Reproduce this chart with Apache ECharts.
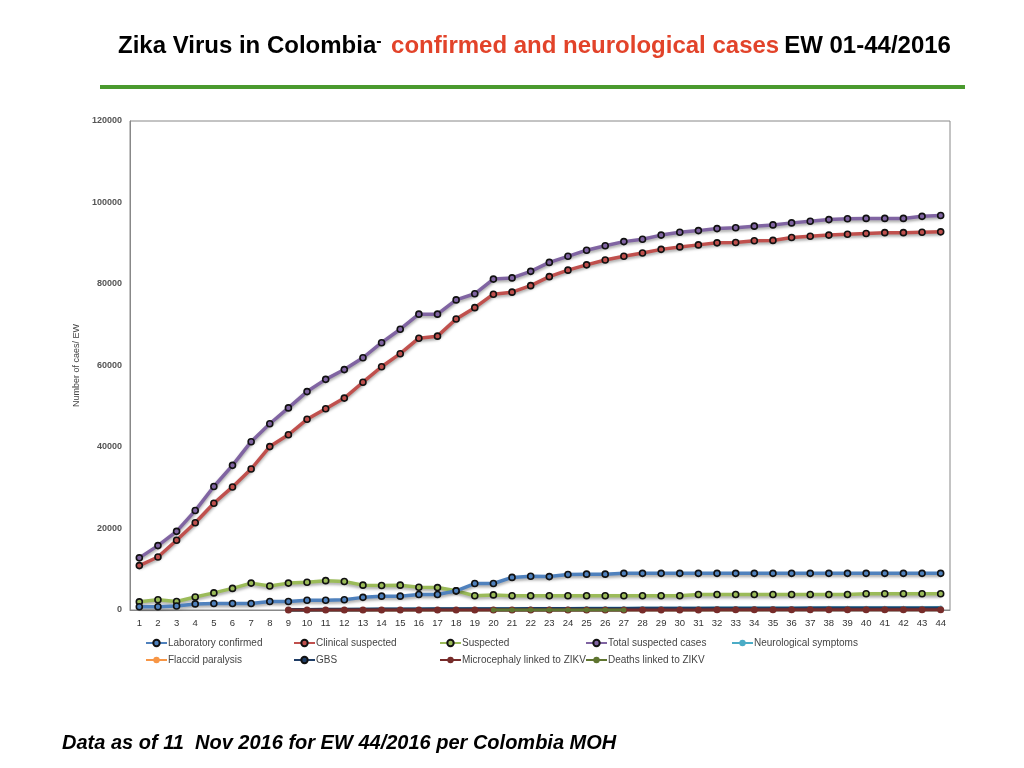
<!DOCTYPE html>
<html>
<head>
<meta charset="utf-8">
<script src="https://cdn.jsdelivr.net/npm/echarts@6/dist/echarts.min.js"></script>
<style>
  html, body { margin: 0; padding: 0; background: #fff; }
  #chart { width: 1024px; height: 768px; }
</style>
</head>
<body>
<div id="chart"></div>
<script>
// epidemiological weeks 1..44
const weeks = ['1','2','3','4','5','6','7','8','9','10','11','12','13','14','15','16','17','18','19','20','21','22',
  '23','24','25','26','27','28','29','30','31','32','33','34','35','36','37','38','39','40','41','42','43','44']

const labConfirmed = [800,800,1000,1500,1600,1600,1600,2100,2100,2400,2400,2500,3100,3400,3400,3800,3800,4700,6500,6500,8000,8300,
  8200,8700,8800,8800,9000,9000,9000,9000,9000,9000,9000,9000,9000,9000,9000,9000,9000,9000,9000,9000,9000,9000]
const clinicalSuspected = [10900,13000,17100,21400,26200,30200,34600,40100,43000,46800,49400,52000,55900,59700,62900,66700,67200,71400,74200,77500,78000,79600,
  81800,83400,84700,85900,86800,87600,88500,89100,89600,90100,90200,90600,90700,91400,91700,92000,92200,92400,92600,92600,92700,92800]
const suspected = [2000,2500,2100,3200,4200,5300,6600,5900,6600,6800,7200,7000,6100,6000,6100,5600,5500,4700,3500,3700,3500,3500,
  3500,3500,3500,3500,3500,3500,3500,3500,3800,3800,3800,3800,3800,3800,3800,3800,3800,4000,4000,4000,4000,4000]
const totalSuspected = [12800,15800,19300,24400,30300,35500,41300,45700,49600,53600,56600,59000,61900,65600,68900,72600,72600,76100,77600,81200,81500,83100,
  85300,86800,88300,89400,90400,91000,92000,92700,93100,93600,93800,94200,94500,95000,95400,95800,96000,96100,96100,96100,96600,96800]
const neuroSymptoms = [null,null,null,null,null,null,null,null,90,110,130,150,170,190,210,230,250,270,290,310,330,350,
  370,390,400,410,420,430,440,450,460,470,480,490,500,510,520,530,540,550,560,570,580,590]
const flaccidParalysis = [null,null,null,null,null,null,null,null,5,6,7,8,9,10,11,12,13,14,15,16,17,18,
  19,20,21,22,23,24,25,26,27,28,29,30,31,32,33,34,35,36,37,38,39,40]
const gbs = [null,null,null,null,null,null,null,null,60,80,100,120,140,160,180,200,220,240,250,260,270,280,
  290,300,310,320,330,340,350,360,370,375,380,385,390,395,400,405,410,415,420,420,420,420]
const microcephaly = [null,null,null,null,null,null,null,null,0,0,0,0,0,0,0,0,0,0,2,4,6,8,
  10,12,14,16,18,20,22,25,28,31,34,37,40,43,46,49,52,55,58,60,62,64]
const deaths = [null,null,null,null,null,null,null,null,null,null,null,null,null,null,null,null,null,null,null,20,20,20,
  20,20,20,20,20,null,null,null,null,null,null,null,null,null,null,null,null,null,null,null,null,null]

const names = ['Laboratory confirmed', 'Clinical suspected', 'Suspected', 'Total suspected cases', 'Neurological symptoms',
  'Flaccid paralysis', 'GBS', 'Microcephaly linked to ZIKV', 'Deaths linked to ZIKV']
const colors = ['#4f81bd', '#c0504d', '#9bbb59', '#8064a2', '#4bacc6', '#f79646', '#1f3d66', '#772c2a', '#5f7530']

const chart = echarts.init(document.getElementById('chart'))

function ringLine(name, data, color, z) {
  return {
    name, data, type: 'line', z,
    symbol: 'circle', symbolSize: 6,
    lineStyle: { width: 3.5, color, shadowColor: 'rgba(0,0,0,0.35)', shadowBlur: 3, shadowOffsetY: 2 },
    itemStyle: { color, borderColor: '#111', borderWidth: 1.6 }
  }
}
function dotLine(name, data, color, size, z) {
  return {
    name, data, type: 'line', z,
    symbol: 'circle', symbolSize: size,
    lineStyle: { width: 3, color, shadowColor: 'rgba(0,0,0,0.3)', shadowBlur: 2, shadowOffsetY: 1 },
    itemStyle: { color, borderColor: color, borderWidth: 0 }
  }
}

// legend laid out as a two-row grid, one legend per cell
const legendCells = [[148,638],[296,638],[442,638],[588,638],[734,638],[148,655],[296,655],[442,655],[588,655]]
const legends = names.map((n, i) => ({
  data: [n], left: legendCells[i][0] - 3, top: legendCells[i][1],
  itemWidth: 21, itemHeight: 8, padding: 0,
  textStyle: { fontSize: 10, color: '#444', fontFamily: 'Liberation Sans', padding: [0, 0, 0, -4] }
}))

const gbsSeries = ringLine(names[6], gbs, colors[6], 2)
gbsSeries.showSymbol = false

chart.setOption({
  animation: false,
  title: {
    left: 113, top: 29,
    text: '{a|Zika Virus in Colombia}{s|- } {b|confirmed and neurological cases} {a|EW 01-44/2016}',
    textStyle: {
      rich: {
        a: { fontSize: 24, fontWeight: 'bold', color: '#000', fontFamily: 'Liberation Sans' },
        s: { fontSize: 16, fontWeight: 'bold', color: '#000', fontFamily: 'Liberation Sans', verticalAlign: 'top' },
        b: { fontSize: 24, fontWeight: 'bold', color: '#e2432a', fontFamily: 'Liberation Sans' }
      }
    }
  },
  legend: legends,
  grid: { left: 130, right: 74, top: 121, bottom: 158, show: true, borderColor: '#888', borderWidth: 1 },
  xAxis: {
    type: 'category', data: weeks, boundaryGap: true,
    axisLine: { lineStyle: { color: '#888' } },
    axisTick: { show: false },
    axisLabel: { fontSize: 9.5, color: '#333', margin: 8, fontFamily: 'Liberation Sans' }
  },
  yAxis: {
    type: 'value', min: 0, max: 120000, interval: 20000,
    name: 'Number of caes/ EW', nameLocation: 'middle', nameGap: 36,
    nameTextStyle: { fontSize: 9, color: '#444', fontFamily: 'Liberation Sans' },
    axisLine: { show: true, lineStyle: { color: '#888' } },
    axisTick: { show: false },
    splitLine: { show: false },
    axisLabel: { fontSize: 9, color: '#555', fontWeight: 'bold', margin: 8, fontFamily: 'Liberation Sans',
      formatter: v => String(v) }
  },
  series: [
    ringLine(names[0], labConfirmed, colors[0], 5),
    ringLine(names[1], clinicalSuspected, colors[1], 5),
    ringLine(names[2], suspected, colors[2], 4),
    ringLine(names[3], totalSuspected, colors[3], 5),
    dotLine(names[4], neuroSymptoms, colors[4], 4, 2),
    dotLine(names[5], flaccidParalysis, colors[5], 4, 2),
    gbsSeries,
    dotLine(names[7], microcephaly, colors[7], 7, 3),
    dotLine(names[8], deaths, colors[8], 5, 4)
  ],
  graphic: [
    { type: 'rect', left: 100, top: 85, shape: { width: 865, height: 4 }, style: { fill: '#4a9a2e' } },
    {
      type: 'text', left: 62, top: 733,
      style: { text: 'Data as of 11  Nov 2016 for EW 44/2016 per Colombia MOH', fill: '#000',
        font: 'italic bold 20px "Liberation Sans"' }
    }
  ]
})
</script>
</body>
</html>
